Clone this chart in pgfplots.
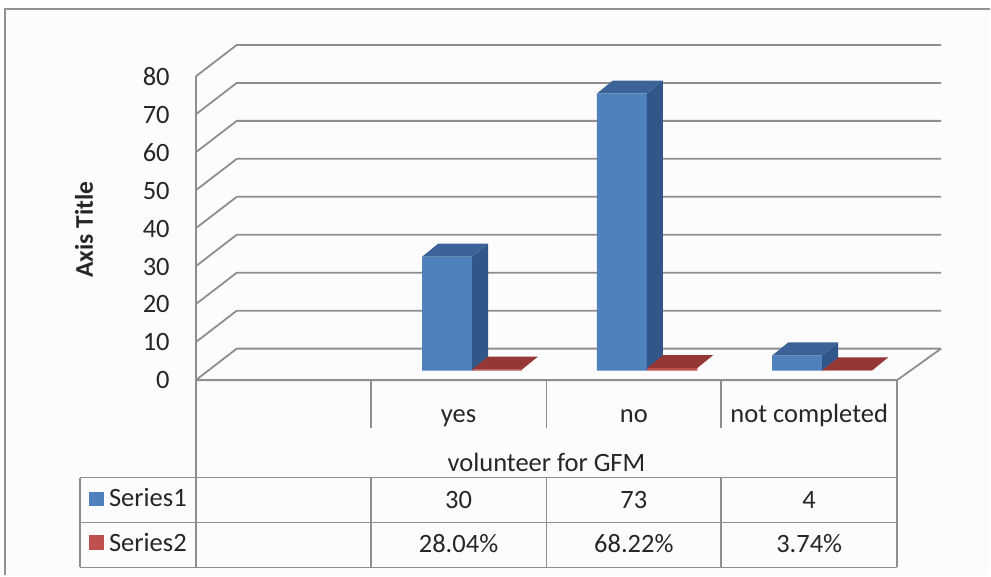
\documentclass[border=0pt]{standalone}
\usepackage{pgfplots}
\pgfplotsset{compat=1.18}
\usepackage{fontspec}
\setmainfont{Carlito}
\definecolor{gridc}{HTML}{8E8E8E}
\definecolor{blueF}{HTML}{4F81BD}
\definecolor{blueS}{HTML}{30568A}
\definecolor{blueT}{HTML}{3B6397}
\definecolor{redF}{HTML}{C0504D}
\definecolor{redT}{HTML}{953735}
\definecolor{txt}{HTML}{262626}
\begin{document}
\begin{tikzpicture}
\fontsize{26.5}{31}\selectfont
% pixel frame: (px,py) with origin top-left of the 991x576 picture
\begin{scope}[x=1pt,y=-1pt,shift={(0pt,576pt)}]
  \path (0,0) rectangle (991,576);
  \fill[white!98!gray] (5,9) rectangle (991,576);
  \draw[gray!85, line width=2pt] (5,576) -- (5,9) -- (991,9);
  % back wall gridlines + left wall diagonals
  \foreach \v in {0,10,...,80} {
    \pgfmathsetmacro\pb{349-3.8*\v}
    \draw[gridc, line width=1.8pt] (196,{\pb+31.5}) -- (237,\pb) -- (942,\pb);
  }
  % floor front edge and right diagonal
  \draw[gridc, line width=1.8pt] (196,380.5) -- (898,380.5) -- (942,349);
  % left vertical (axis + table)
  \draw[gridc, line width=1.8pt] (196,76.5) -- (196,568);
  \draw[gridc, line width=1.8pt] (898,380.5) -- (898,568);
  \foreach \xx in {371,547,722} {
    \draw[gridc, line width=1.8pt] (\xx,380.5) -- (\xx,428);
    \draw[gridc, line width=1.8pt] (\xx,478) -- (\xx,568);
  }
  \foreach \yy in {478,523,568} {
    \draw[gridc, line width=1.8pt] (80,\yy) -- (898,\yy);
  }
  \draw[gridc, line width=1.8pt] (80,478) -- (80,568);
  % y tick labels
  \foreach \v in {0,10,...,80} {
    \pgfmathsetmacro\bl{389-3.79*\v}
    \node[anchor=base east, inner sep=0pt, text=txt] at (170,\bl) {\v};
  }
  \node[rotate=90, inner sep=0pt, text=txt, font=\fontsize{25.5}{30}\selectfont\bfseries] at (84,230) {Axis Title};
  % category labels
  \node[anchor=base, inner sep=0pt, text=txt] at (459,422.5) {yes};
  \node[anchor=base, inner sep=0pt, text=txt] at (634.5,422.5) {no};
  \node[anchor=base, inner sep=0pt, text=txt] at (810,422.5) {not completed};
  \node[anchor=base, inner sep=0pt, text=txt] at (547,472) {volunteer for GFM};
  % data table
  \fill[blueF] (89,492) rectangle (104,507);
  \fill[redF] (89,536) rectangle (104,551);
  \node[anchor=base west, inner sep=0pt, text=txt] at (109,507.5) {Series1};
  \node[anchor=base west, inner sep=0pt, text=txt] at (109,552) {Series2};
  \node[anchor=base, inner sep=0pt, text=txt] at (459,509) {30};
  \node[anchor=base, inner sep=0pt, text=txt] at (634.5,509) {73};
  \node[anchor=base, inner sep=0pt, text=txt] at (810,509) {4};
  \node[anchor=base, inner sep=0pt, text=txt] at (459,553.5) {28.04\%};
  \node[anchor=base, inner sep=0pt, text=txt] at (634.5,553.5) {68.22\%};
  \node[anchor=base, inner sep=0pt, text=txt] at (810,553.5) {3.74\%};
\end{scope}
\begin{axis}[at={(0pt,0pt)}, anchor=south west,
  x=1pt, y=3.8pt, xmin=0, xmax=991, ymin=-53.947, ymax=97.6316,
  axis lines=none, ticks=none, clip=false]
  % Series1 front faces
  \addplot[ybar, bar width=50, bar shift=0pt, fill=blueF, draw=none]
    coordinates {(447.5,30) (622.5,73) (798,4)};
  % Series1 side faces
  \addplot[fill=blueS, draw=none] coordinates {(472.5,0) (472.5,30) (488.5,33.42) (488.5,3.42)};
  \addplot[fill=blueS, draw=none] coordinates {(647.5,0) (647.5,73) (663.5,76.42) (663.5,3.42)};
  \addplot[fill=blueS, draw=none] coordinates {(823,0) (823,4) (839,7.42) (839,3.42)};
  % Series1 top faces
  \addplot[fill=blueT, draw=none] coordinates {(422.5,30) (472.5,30) (488.5,33.42) (438.5,33.42)};
  \addplot[fill=blueT, draw=none] coordinates {(597.5,73) (647.5,73) (663.5,76.42) (613.5,76.42)};
  \addplot[fill=blueT, draw=none] coordinates {(773,4) (823,4) (839,7.42) (789,7.42)};
  % Series2 front faces
  \addplot[ybar, bar width=50, bar shift=0pt, fill=redF, draw=none]
    coordinates {(497.5,0.2804) (673,0.6822) (848,0.0374)};
  % Series2 top faces
  \addplot[fill=redT, draw=none] coordinates {(472.5,0.2804) (522.5,0.2804) (538.5,3.70) (488.5,3.70)};
  \addplot[fill=redT, draw=none] coordinates {(648,0.6822) (698,0.6822) (714,4.10) (664,4.10)};
  \addplot[fill=redT, draw=none] coordinates {(823,0.0374) (873,0.0374) (889,3.46) (839,3.46)};
\end{axis}
\end{tikzpicture}
\end{document}
